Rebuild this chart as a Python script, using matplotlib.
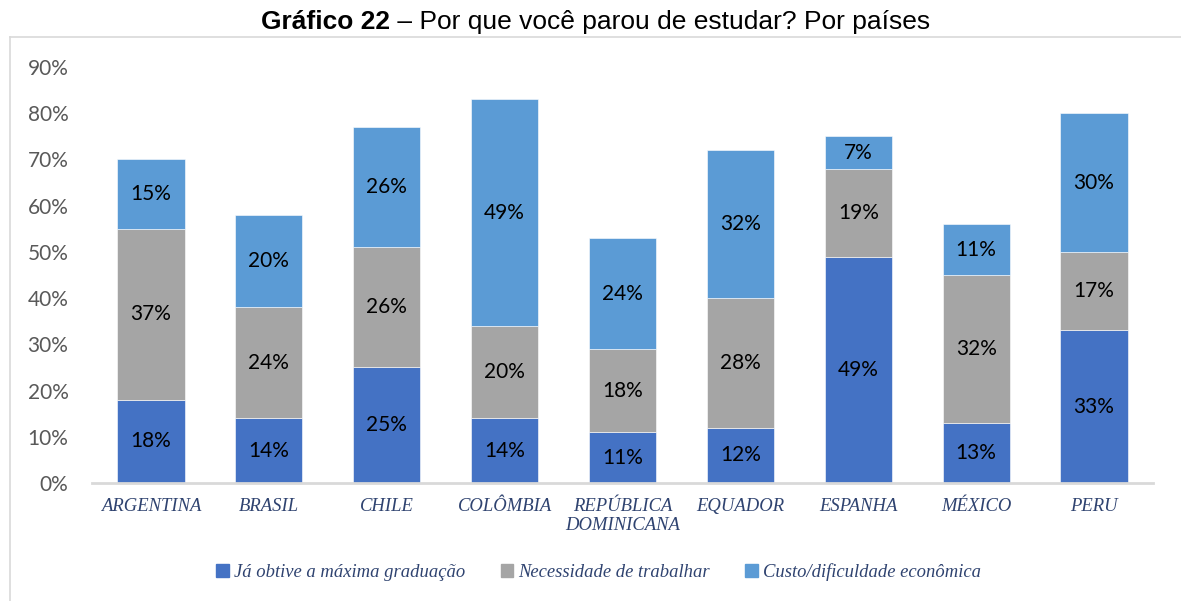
import matplotlib
matplotlib.use("Agg")
import matplotlib.pyplot as plt
from matplotlib.lines import Line2D
from matplotlib.patches import Patch
import numpy as np

countries = ["ARGENTINA", "BRASIL", "CHILE", "COLÔMBIA", "REPÚBLICA\nDOMINICANA",
             "EQUADOR", "ESPANHA", "MÉXICO", "PERU"]
series_names = ["Já obtive a máxima graduação", "Necessidade de trabalhar",
                "Custo/dificuldade econômica"]
graduacao = [18, 14, 25, 14, 11, 12, 49, 13, 33]
trabalhar = [37, 24, 26, 20, 18, 28, 19, 32, 17]
custo = [15, 20, 26, 49, 24, 32, 7, 11, 30]
yticks = [0, 10, 20, 30, 40, 50, 60, 70, 80, 90]

colors = ["#4472C4", "#A5A5A5", "#5B9BD5"]

fig = plt.figure(figsize=(11.81, 6.01), dpi=100)
ax = fig.add_axes([0.0779, 0.1963, 0.8984, 0.6922])

x = np.arange(len(countries))
bottom = np.zeros(len(countries))
for vals, col in zip([graduacao, trabalhar, custo], colors):
    vals = np.array(vals, dtype=float)
    ax.bar(x, vals, width=0.57, bottom=bottom, color=col,
           edgecolor="#FFFFFF", linewidth=0.4)
    for xi, b, v in zip(x, bottom, vals):
        ax.text(xi, b + v / 2, f"{int(v)}%", ha="center", va="center",
                fontsize=15, family="Lato", color="#000000")
    bottom += vals

ax.set_xlim(-0.5, len(countries) - 0.5)
ax.set_ylim(0, 90)
ax.set_yticks(yticks)
ax.set_yticklabels([f"{t}%" for t in yticks], family="Lato", fontsize=15,
                   color="#595959")
ax.set_xticks(x)
ax.set_xticklabels(countries, family="Liberation Serif", style="italic",
                   fontsize=13.4, color="#2F4370", linespacing=1.15)
ax.tick_params(axis="both", length=0)
ax.tick_params(axis="y", pad=17)
ax.tick_params(axis="x", pad=11)
for s in ["top", "right", "left"]:
    ax.spines[s].set_visible(False)
ax.spines["bottom"].set_color("#D9D9D9")
ax.spines["bottom"].set_linewidth(2)

handles = [Patch(facecolor=c, edgecolor=c) for c in colors]
leg = fig.legend(handles, series_names, loc="center", bbox_to_anchor=(0.507, 0.048),
                 ncol=3, frameon=False, handlelength=0.65, handleheight=0.65,
                 handletextpad=0.3, columnspacing=1.9,
                 prop={"family": "Liberation Serif", "style": "italic", "size": 13.4})
for t in leg.get_texts():
    t.set_color("#2F4370")

# border lines (top and left)
fig.add_artist(Line2D([10 / 1181, 1.0], [1 - 37 / 601, 1 - 37 / 601],
                      transform=fig.transFigure, color="#D9D9D9", lw=1.2))
fig.add_artist(Line2D([10 / 1181, 10 / 1181], [0, 1 - 37 / 601],
                      transform=fig.transFigure, color="#D9D9D9", lw=1.2))

# title
fig.text(390 / 1181, 1 - 22 / 601, "Gráfico 22", ha="right", va="center",
         family="Liberation Sans", fontsize=19, fontweight="bold")
fig.text(390 / 1181, 1 - 22 / 601, " – Por que você parou de estudar? Por países",
         ha="left", va="center", family="Liberation Sans", fontsize=19)

fig.savefig("out.png", dpi=100)
